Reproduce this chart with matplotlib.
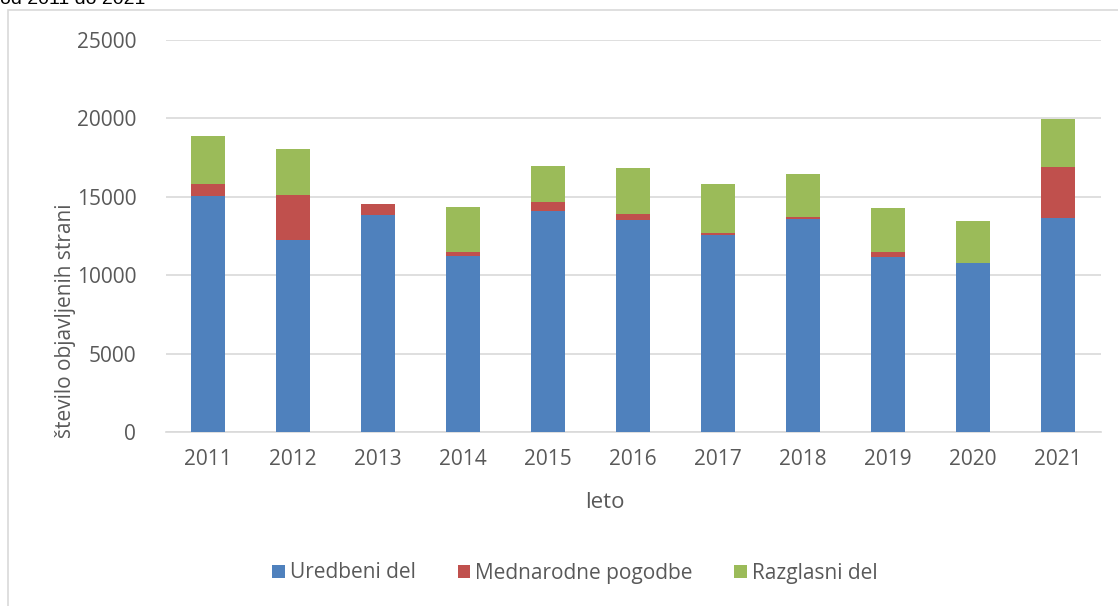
import matplotlib.pyplot as plt
import numpy as np
from matplotlib.patches import Rectangle

plt.rcParams['font.family'] = ['Open Sans', 'DejaVu Sans']

years = ["2011", "2012", "2013", "2014", "2015", "2016", "2017", "2018", "2019", "2020", "2021"]
uredbeni = [15030, 12240, 13860, 11220, 14070, 13500, 12560, 13600, 11140, 10750, 13630]
mednarodne = [770, 2890, 660, 270, 580, 380, 150, 130, 360, 40, 3290]
razglasni = [3100, 2920, 0, 2860, 2300, 2940, 3090, 2710, 2810, 2670, 3060]

labels = ["Uredbeni del", "Mednarodne pogodbe", "Razglasni del"]
colors = ["#4F81BD", "#C0504D", "#9BBB59"]
text_col = "#595959"

W, H = 1118, 606
fig = plt.figure(figsize=(W / 100, H / 100), dpi=100)

# outer chart frame
fig.patches.append(Rectangle((8 / W, -0.05), 1.2, 1 - 10 / H + 0.05, transform=fig.transFigure,
                             fill=False, edgecolor="#D9D9D9", linewidth=1.2))
fig.text(0, 1 - 4 / H, "od 2011 do 2021", fontsize=14, color="black", va="baseline", ha="left",
         family=["Liberation Sans", "DejaVu Sans"])

ax = fig.add_axes([165.5 / W, 1 - 432 / H, (1100.5 - 165.5) / W, (432 - 40) / H])
x = np.arange(len(years))
u = np.array(uredbeni)
m = np.array(mednarodne)
r = np.array(razglasni)
ax.bar(x, u, 0.4, color=colors[0], label=labels[0], zorder=3)
ax.bar(x, m, 0.4, bottom=u, color=colors[1], label=labels[1], zorder=3)
ax.bar(x, r, 0.4, bottom=u + m, color=colors[2], label=labels[2], zorder=3)

ax.set_xlim(-0.5, len(years) - 0.5)
ax.set_ylim(0, 25000)
ax.set_yticks(range(0, 25001, 5000))
ax.set_xticks(x)
ax.set_xticklabels(years)
ax.grid(axis="y", color="#D9D9D9", linewidth=1.2, zorder=0)
for s in ["top", "right", "left"]:
    ax.spines[s].set_visible(False)
ax.spines["bottom"].set_color("#D9D9D9")
ax.spines["bottom"].set_linewidth(1.2)
ax.tick_params(length=0, labelsize=15, colors=text_col, pad=12)
ax.tick_params(axis="y", pad=21)

fig.text(605 / W, 1 - 502 / H, "leto", fontsize=16, color=text_col, ha="center", va="center")
fig.text(66 / W, 1 - 321 / H, "število objavljenih strani", fontsize=15, color=text_col,
         ha="center", va="center", rotation=90)

fig.legend(loc="center", bbox_to_anchor=(575 / W, 1 - 573 / H), ncol=3, frameon=False,
           fontsize=15, labelcolor=text_col, handlelength=0.6, handleheight=0.6,
           handletextpad=0.25, columnspacing=2.0)

fig.savefig("out.png", dpi=100)
